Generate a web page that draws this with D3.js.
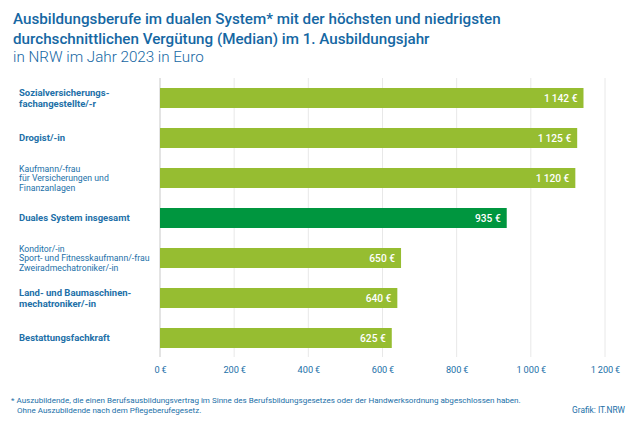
<!DOCTYPE html>
<html>
<head>
<meta charset="utf-8">
<script src="https://cdn.jsdelivr.net/npm/d3@7"></script>
<style>
  body { margin: 0; background: #fff; }
  svg { font-family: Roboto, "Open Sans", sans-serif; }
</style>
</head>
<body>
<div id="chart"></div>
<script>
// Ausbildungsvergütung NRW 2023 (Median, 1. Ausbildungsjahr)
const categories = [
  "Sozialversicherungs-|fachangestellte/-r",
  "Drogist/-in",
  "Kaufmann/-frau|für Versicherungen und|Finanzanlagen",
  "Duales System insgesamt",
  "Konditor/-in|Sport- und Fitnesskaufmann/-frau|Zweiradmechatroniker/-in",
  "Land- und Baumaschinen-|mechatroniker/-in",
  "Bestattungsfachkraft"
];
const values = [1142, 1125, 1120, 935, 650, 640, 625];
const totalCategory = "Duales System insgesamt";
const ticks = [0, 200, 400, 600, 800, 1000, 1200];

const titleLines = [
  "Ausbildungsberufe im dualen System* mit der höchsten und niedrigsten",
  "durchschnittlichen Vergütung (Median) im 1. Ausbildungsjahr"
];
const subtitle = "in NRW im Jahr 2023 in Euro";
const footnotes = [
  "* Auszubildende, die einen Berufsausbildungsvertrag im Sinne des Berufsbildungsgesetzes oder der Handwerksordnung abgeschlossen haben.",
  "Ohne Auszubildende nach dem Pflegeberufegesetz."
];
const source = "Grafik: IT.NRW";

const width = 636, height = 425;
const blue = "#1567a3", labelBlue = "#2270a8", lightGreen = "#96bd31", darkGreen = "#00963f";

// Zahlen mit schmalem Leerzeichen als Tausendertrenner
const fmt = v => d3.format(",")(v).replace(/,/g, "\u2009") + "\u2009€";
const fmtValue = v => d3.format(",")(v).replace(/,/g, "\u2009") + " €";

const svg = d3.select("#chart").append("svg")
  .attr("width", width)
  .attr("height", height);

const x = d3.scaleLinear().domain([0, 1200]).range([160, 605]);
const y = d3.scaleBand().domain(categories).range([78, 358])
  .paddingInner(0.5).paddingOuter(0.25);

// Titel
svg.append("g").selectAll("text")
  .data(titleLines)
  .join("text")
  .attr("x", 13)
  .attr("y", (d, i) => 24 + i * 19.5)
  .attr("fill", blue)
  .style("font-size", "15.2px")
  .style("font-weight", "500")
  .text(d => d);

svg.append("text")
  .attr("x", 13)
  .attr("y", 62)
  .attr("fill", blue)
  .style("font-size", "15.2px")
  .style("font-weight", "300")
  .text(subtitle);

// Gitterlinien
svg.append("g").selectAll("line")
  .data(ticks)
  .join("line")
  .attr("x1", d => x(d)).attr("x2", d => x(d))
  .attr("y1", 78).attr("y2", 357)
  .attr("stroke", d => d === 0 ? "#c8c8c8" : "#e8e8e8")
  .attr("stroke-width", 1);

// x-Achse
const xAxis = svg.append("g")
  .attr("transform", "translate(0,358)")
  .call(d3.axisBottom(x).tickValues(ticks).tickFormat(fmt).tickSize(0).tickPadding(8));
xAxis.select(".domain").remove();
xAxis.selectAll("text")
  .attr("fill", labelBlue)
  .style("font-size", "9.2px")
  .style("font-family", "Roboto, sans-serif");

// Balken
svg.append("g").selectAll("rect")
  .data(categories)
  .join("rect")
  .attr("x", x(0))
  .attr("y", d => y(d))
  .attr("width", (d, i) => x(values[i]) - x(0))
  .attr("height", y.bandwidth())
  .attr("fill", d => d === totalCategory ? darkGreen : lightGreen);

// Werte im Balken
svg.append("g").selectAll("text")
  .data(categories)
  .join("text")
  .attr("x", (d, i) => x(values[i]) - 6)
  .attr("y", d => y(d) + y.bandwidth() / 2 + 3.6)
  .attr("text-anchor", "end")
  .attr("fill", "#fff")
  .style("font-size", "10.2px")
  .style("font-weight", "500")
  .text((d, i) => fmtValue(values[i]));

// Kategorienbeschriftung
svg.append("g").selectAll("text")
  .data(categories)
  .join("text")
  .attr("fill", labelBlue)
  .each(function(d) {
    const lines = d.split("|");
    const small = lines.length > 2;
    const lh = small ? 9.7 : 11;
    const cy = y(d) + y.bandwidth() / 2;
    const t = d3.select(this)
      .style("font-size", small ? "8.7px" : "9.5px")
      .style("font-weight", small ? "400" : "700");
    lines.forEach((line, i) => {
      t.append("tspan")
        .attr("x", 19)
        .attr("y", cy + 3.3 + (i - (lines.length - 1) / 2) * lh)
        .text(line);
    });
  });

// Fußnoten
svg.append("g").selectAll("text")
  .data(footnotes)
  .join("text")
  .attr("x", (d, i) => i === 0 ? 11 : 17)
  .attr("y", (d, i) => 403 + i * 9.5)
  .attr("fill", labelBlue)
  .style("font-size", "8.05px")
  .text(d => d);

svg.append("text")
  .attr("x", 625)
  .attr("y", 413)
  .attr("text-anchor", "end")
  .attr("fill", labelBlue)
  .style("font-size", "8.4px")
  .text(source);
</script>
</body>
</html>
